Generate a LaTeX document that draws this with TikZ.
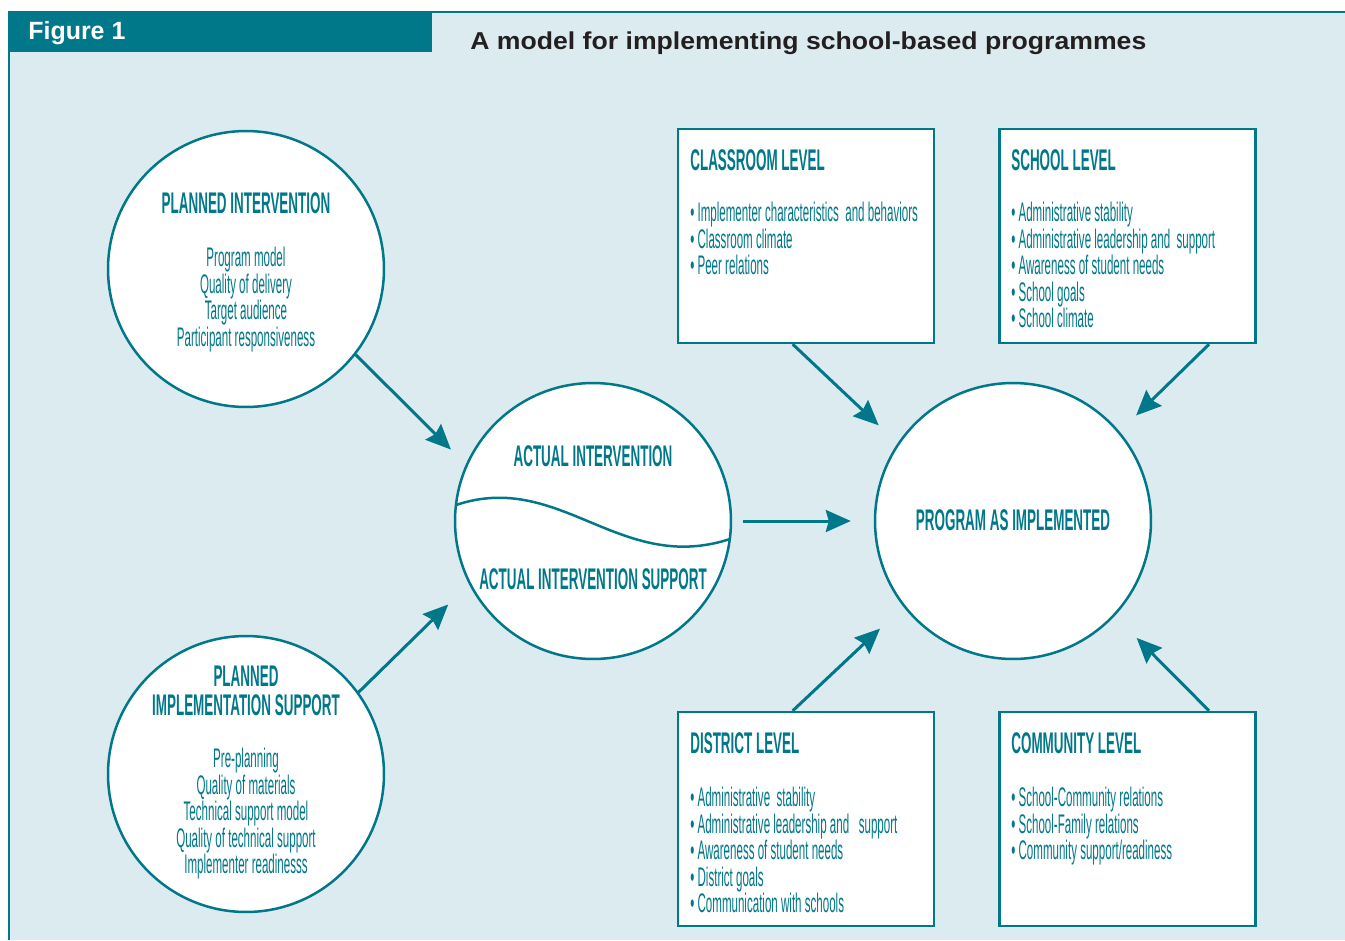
\documentclass[tikz,border=0pt]{standalone}
\usepackage{fontspec}
\usepackage{xcolor}
\usepackage{tikz}
\usetikzlibrary{arrows.meta}
\setmainfont{Liberation Sans}
\newfontfamily\titlefont[FakeStretch=1.09]{Liberation Sans}
\newfontfamily\levelfont[FakeStretch=0.45]{Liberation Sans}
\newfontfamily\itemfont[FakeStretch=0.43]{Liberation Sans}
\definecolor{figteal}{HTML}{00788A}
\definecolor{panelbg}{HTML}{DCEBF0}
\definecolor{titletext}{HTML}{231F20}

\begin{document}
\begin{tikzpicture}[x=0.02cm, y=-0.02cm,
    stage/.style={circle, draw=figteal, line width=0.05cm, fill=white,
                  minimum size=5.52cm, inner sep=0pt},
    level/.style={rectangle, draw=figteal, line width=0.05cm, fill=white,
                  minimum width=5.12cm, minimum height=4.28cm, inner sep=0pt},
    heading/.style={text=figteal, font=\levelfont\bfseries\fontsize{17}{16.4}\selectfont, inner sep=0pt},
    items/.style={text=figteal, font=\itemfont\fontsize{15.3}{15.1}\selectfont, inner sep=0pt},
    arrow/.style={-{Stealth[length=0.5cm, width=0.44cm, inset=0.06cm]}, line width=0.06cm, color=figteal}
  ]
    \useasboundingbox (0,0) rectangle (1345,940);
    \fill[panelbg] (9,12) rectangle (1345,940);
    \draw[figteal, line width=0.04cm] (1345,12) -- (9,12) -- (9,940);

    \node[fill=figteal, minimum width=8.46cm, minimum height=0.8cm, inner sep=0pt] (figbar) at (220.5,32) {};
    \node[anchor=base west, text=white, font=\bfseries\fontsize{14.2}{16}\selectfont, inner sep=0pt]
      (figlabel) at (28,39) {Figure 1};
    \node[anchor=base west, text=titletext, font=\titlefont\bfseries\fontsize{13.9}{16}\selectfont, inner sep=0pt]
      (figtitle) at (470,49) {A model for implementing school-based programmes};

    \node[stage] (planint)  at (246,269) {};
    \node[stage] (plansupp) at (246,774) {};
    \node[stage] (actual)   at (593,521) {};
    \node[stage] (program)  at (1013,521) {};

    \node[level] (classroom) at (806,236) {};
    \node[level] (school)    at (1127.5,236) {};
    \node[level] (district)  at (806,819) {};
    \node[level] (community) at (1127.5,819) {};

    \draw[figteal, line width=0.05cm] (456,505) .. controls (560,470) and (620,575) .. (730,539);

    \node[heading, anchor=base] (planinthead) at (246,213) {PLANNED INTERVENTION};
    \node[items, anchor=north, align=center] (planintlist) at (246,247)
      {Program model\\Quality of delivery\\Target audience\\Participant responsiveness};

    \node[heading, anchor=north, align=center] (plansupphead) at (246,665.5)
      {PLANNED\\IMPLEMENTATION SUPPORT};
    \node[items, anchor=north, align=center] (planspplist) at (246,748)
      {Pre-planning\\Quality of materials\\Technical support model\\Quality of technical support\\Implementer readinesss};

    \node[heading, anchor=base] (actualhead) at (593,466) {ACTUAL INTERVENTION};
    \node[heading, anchor=base] (actualsupp) at (593,589) {ACTUAL INTERVENTION SUPPORT};
    \node[heading, anchor=base] (programhead) at (1013,530) {PROGRAM AS IMPLEMENTED};

    \node[heading, anchor=base west] (classroomhead) at (690,170) {CLASSROOM LEVEL};
    \node[items, anchor=north west, align=left] (classroomlist) at (690,202)
      {• Implementer characteristics\ \ and behaviors\\• Classroom climate\\• Peer relations};

    \node[heading, anchor=base west] (schoolhead) at (1011,170) {SCHOOL LEVEL};
    \node[items, anchor=north west, align=left] (schoollist) at (1011,202)
      {• Administrative stability\\• Administrative leadership and\ \ support\\• Awareness of student needs\\• School goals\\• School climate};

    \node[heading, anchor=base west] (districthead) at (690,753) {DISTRICT LEVEL};
    \node[items, anchor=north west, align=left] (districtlist) at (690,787)
      {• Administrative\ \ stability\\• Administrative leadership and\ \ \ support\\• Awareness of student needs\\• District goals\\• Communication with schools};

    \node[heading, anchor=base west] (communityhead) at (1011,753) {COMMUNITY LEVEL};
    \node[items, anchor=north west, align=left] (communitylist) at (1011,787)
      {• School-Community relations\\• School-Family relations\\• Community support/readiness};

    \draw[arrow, shorten >=0.42cm] (planint.-38) -- (actual.156);
    \draw[arrow, shorten >=0.58cm] (plansupp.36) -- (actual.-153.5);
    \draw[arrow, shorten <=0.22cm, shorten >=0.46cm] (actual) -- (program);
    \draw[arrow, shorten >=0.52cm] (classroom.-97) -- (program.146);
    \draw[arrow, shorten >=0.46cm] (school.-53) -- (program.40);
    \draw[arrow, shorten >=0.64cm] (district.97) -- (program.-142);
    \draw[arrow, shorten >=0.62cm] (community.53) -- (program.-43);
  \end{tikzpicture}
\end{document}
